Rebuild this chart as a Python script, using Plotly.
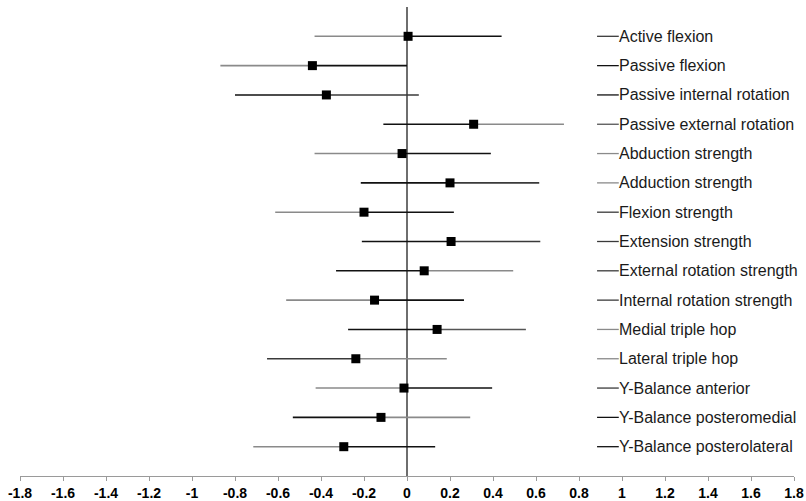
import plotly.graph_objects as go

outcomes = [
    "Active flexion", "Passive flexion", "Passive internal rotation",
    "Passive external rotation", "Abduction strength", "Adduction strength",
    "Flexion strength", "Extension strength", "External rotation strength",
    "Internal rotation strength", "Medial triple hop", "Lateral triple hop",
    "Y-Balance anterior", "Y-Balance posteromedial", "Y-Balance posterolateral",
]
effect = [0.005, -0.44, -0.375, 0.31, -0.023, 0.20, -0.20, 0.205, 0.08,
          -0.151, 0.14, -0.238, -0.014, -0.121, -0.294]
ci_low = [-0.43, -0.868, -0.80, -0.11, -0.43, -0.215, -0.613, -0.21, -0.33,
          -0.562, -0.274, -0.651, -0.425, -0.531, -0.715]
ci_high = [0.44, 0.0, 0.055, 0.73, 0.39, 0.615, 0.218, 0.62, 0.494,
           0.265, 0.553, 0.185, 0.396, 0.294, 0.131]
x_ticks = [round(-1.8 + 0.2 * k, 1) for k in range(19)]

G, B, D = "#8a8a8a", "#111111", "#3a3a3a"
left_col = [G, G, B, B, G, B, G, B, B, G, B, D, G, B, G]
right_col = [B, B, D, G, B, D, B, D, G, B, "#555555", G, B, G, B]
swatch_col = [D, B, B, "#555555", G, G, D, D, D, D, G, G, D, B, B]

fig = go.Figure()
for i, name in enumerate(outcomes):
    fig.add_trace(go.Scatter(x=[ci_low[i], effect[i]], y=[i, i], mode="lines",
                             line=dict(color=left_col[i], width=1.6),
                             showlegend=False, hoverinfo="skip"))
    fig.add_trace(go.Scatter(x=[effect[i], ci_high[i]], y=[i, i], mode="lines",
                             line=dict(color=right_col[i], width=1.6),
                             showlegend=False, hoverinfo="skip"))
    fig.add_shape(type="line", x0=0.884, x1=0.985, y0=i, y1=i, xref="x", yref="y",
                  line=dict(color=swatch_col[i], width=1.3))
    fig.add_annotation(x=0.985, y=i, xref="x", yref="y", text=name, showarrow=False,
                       xanchor="left", yanchor="middle", borderpad=0, xshift=-1,
                       font=dict(family="Liberation Sans, Arial", size=16, color="#1a1a1a"))

fig.add_trace(go.Scatter(x=effect, y=list(range(len(outcomes))), mode="markers",
                         marker=dict(symbol="square", size=9, color="black"),
                         showlegend=False, hoverinfo="skip"))

fig.update_layout(
    width=806, height=501,
    margin=dict(l=20, r=12, t=7, b=25),
    paper_bgcolor="white", plot_bgcolor="white",
    xaxis=dict(range=[-1.8, 1.8], tickvals=x_ticks, automargin=False,
               ticktext=[("%g" % v) for v in x_ticks],
               showgrid=False, zeroline=True, zerolinecolor="#6e6e6e", zerolinewidth=1.6,
               showline=True, linecolor="#9a9a9a", linewidth=1.2,
               ticks="outside", ticklen=4, tickcolor="#9a9a9a",
               tickfont=dict(family="Liberation Sans, Arial", size=14, color="black", weight="bold")),
    yaxis=dict(range=[len(outcomes), -1], showgrid=False, zeroline=False, automargin=False,
               showticklabels=False, showline=False, ticks=""),
)

fig.write_html("out.html", config={"displayModeBar": False},
               post_script="document.body.style.margin='0px';document.body.style.overflow='hidden';")
